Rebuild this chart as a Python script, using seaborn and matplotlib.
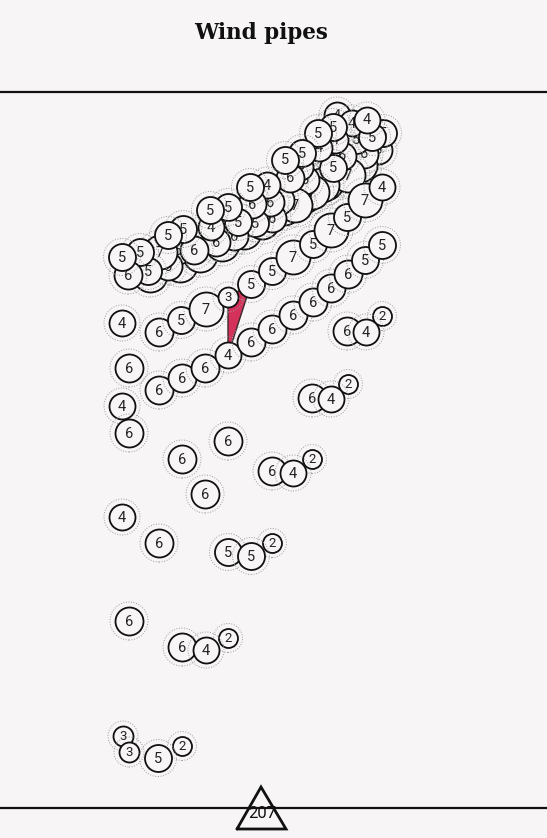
import matplotlib
matplotlib.use("Agg")
import pandas as pd
from matplotlib import pyplot as plt
from matplotlib.patches import Polygon
import seaborn as sns

# wind pipes in the dense band, listed in drawing order (back to front)
band_x = [150, 180, 200, 222, 244, 262, 284, 304, 326, 346, 366,
          378, 383,
          360, 352, 345, 337,
          364, 356, 352,
          372, 367,
          348, 342, 335, 333,
          322, 333, 319, 318,
          312, 297, 305, 300, 302,
          295, 280, 290, 285,
          272, 270, 267,
          255, 252, 250,
          234, 238, 228,
          216, 211, 210,
          178, 194, 183,
          168, 160, 168,
          148, 140,
          128, 122]
band_y = [275, 265, 255, 244, 232, 222, 208, 196, 183, 168, 155,
          150, 133,
          165, 148, 132, 115,
          154, 140, 123,
          137, 120,
          175, 156, 140, 127,
          185, 168, 148, 133,
          192, 197, 180, 167, 153,
          205, 200, 178, 160,
          218, 202, 185,
          223, 204, 187,
          236, 222, 207,
          242, 227, 210,
          250, 250, 229,
          266, 252, 235,
          271, 252,
          275, 257]
band_n = [7, 7, 7, 7, 7, 7, 7, 7, 7, 7, 6,
          6, 5,
          7, 6, 5, 4,
          6, 5, 4,
          5, 4,
          7, 6, 4, 5,
          7, 5, 4, 5,
          7, 4, 6, 4, 5,
          7, 6, 6, 5,
          6, 6, 4,
          5, 6, 5,
          6, 5, 5,
          6, 4, 5,
          6, 6, 5,
          6, 7, 5,
          5, 5,
          6, 5]

# loose pipes
pipe_x = [122, 159, 181, 206, 228, 251, 272, 293, 313, 331, 347, 365, 382,
          129, 159, 182, 205, 228, 251, 272, 293, 313, 331, 348, 365, 382,
          382, 347, 366, 348, 312, 331, 312, 272, 293,
          122, 129, 228, 182, 205, 122, 159, 129,
          272, 228, 251, 228, 182, 206, 123, 129, 182, 158]
pipe_y = [323, 332, 320, 309, 297, 284, 271, 257, 244, 230, 217, 200, 187,
          368, 390, 378, 368, 355, 342, 329, 315, 302, 288, 274, 260, 245,
          316, 331, 332, 384, 398, 399, 459, 471, 473,
          406, 433, 441, 459, 494, 517, 543, 621,
          543, 552, 556, 638, 647, 650, 736, 752, 746, 758]
pipe_n = [4, 6, 5, 7, 3, 5, 5, 7, 5, 7, 5, 7, 4,
          6, 6, 6, 6, 4, 6, 6, 6, 6, 6, 6, 5, 5,
          2, 6, 4, 2, 6, 4, 2, 6, 4,
          4, 6, 6, 6, 6, 4, 6, 6,
          2, 5, 5, 2, 6, 4, 3, 3, 2, 5]

# highlighted link between pipes (indices into the loose pipes)
link = [4, 5, 17]

W, H, DPI = 547, 838, 100
BG = "#f7f5f6"
radius = {2: 9.5, 3: 10, 4: 13, 5: 13.5, 6: 14, 7: 17}

sns.set_theme(style="white", rc={"figure.facecolor": BG, "axes.facecolor": BG})
plt.rcParams["font.family"] = ["Roboto", "DejaVu Sans"]

df = pd.concat([
    pd.DataFrame({"x": band_x, "y": band_y, "n": band_n}),
    pd.DataFrame({"x": pipe_x, "y": pipe_y, "n": pipe_n}),
], ignore_index=True)

fig = plt.figure(figsize=(W / DPI, H / DPI), dpi=DPI)
ax = fig.add_axes([0, 0, 1, 1])
ax.set_xlim(0, W)
ax.set_ylim(H, 0)
ax.set_axis_off()

pt = 72 / DPI
for i, row in df.iterrows():
    r = radius[row.n]
    z = 3 + i * 0.01
    one = row.to_frame().T.astype(float)
    sns.scatterplot(data=one, x="x", y="y", ax=ax, legend=False,
                    s=(2 * (r + 5) * pt) ** 2, color=(1, 1, 1, 0),
                    edgecolor="#9c9c9c", linewidth=0.7, linestyle=":",
                    zorder=z)
    sns.scatterplot(data=one, x="x", y="y", ax=ax, legend=False,
                    s=(2 * r * pt) ** 2, color=BG, edgecolor="#111111",
                    linewidth=1.3, zorder=z + 0.003)
    ax.text(row.x, row.y + 0.5, str(int(row.n)), ha="center", va="center",
            fontsize=10.5 if row.n > 3 else 9.5, color="#222222",
            zorder=z + 0.006)

loose = pd.DataFrame({"x": pipe_x, "y": pipe_y})
tri = loose.iloc[link][["x", "y"]].to_numpy()
ax.add_patch(Polygon(tri, closed=True, facecolor="#d4325a",
                     edgecolor="#3a2a2e", linewidth=1.0, zorder=2))

# frame: title, rules, page marker
ax.text(W / 2 - 12, 33, "Wind pipes", ha="center", va="center",
        fontsize=15.5, fontweight="bold", family="DejaVu Serif",
        color="#111111")
ax.axhline(92, color="#111111", linewidth=1.6, zorder=1)
ax.axhline(808, color="#111111", linewidth=1.6, zorder=1)
ax.plot([237, 261, 286, 237], [829, 787, 829, 829], color="#111111",
        linewidth=2.0, solid_joinstyle="miter", zorder=1)
ax.text(262, 813, "207", ha="center", va="center", fontsize=12,
        color="#111111")

fig.savefig("out.png", dpi=DPI, facecolor=BG)
